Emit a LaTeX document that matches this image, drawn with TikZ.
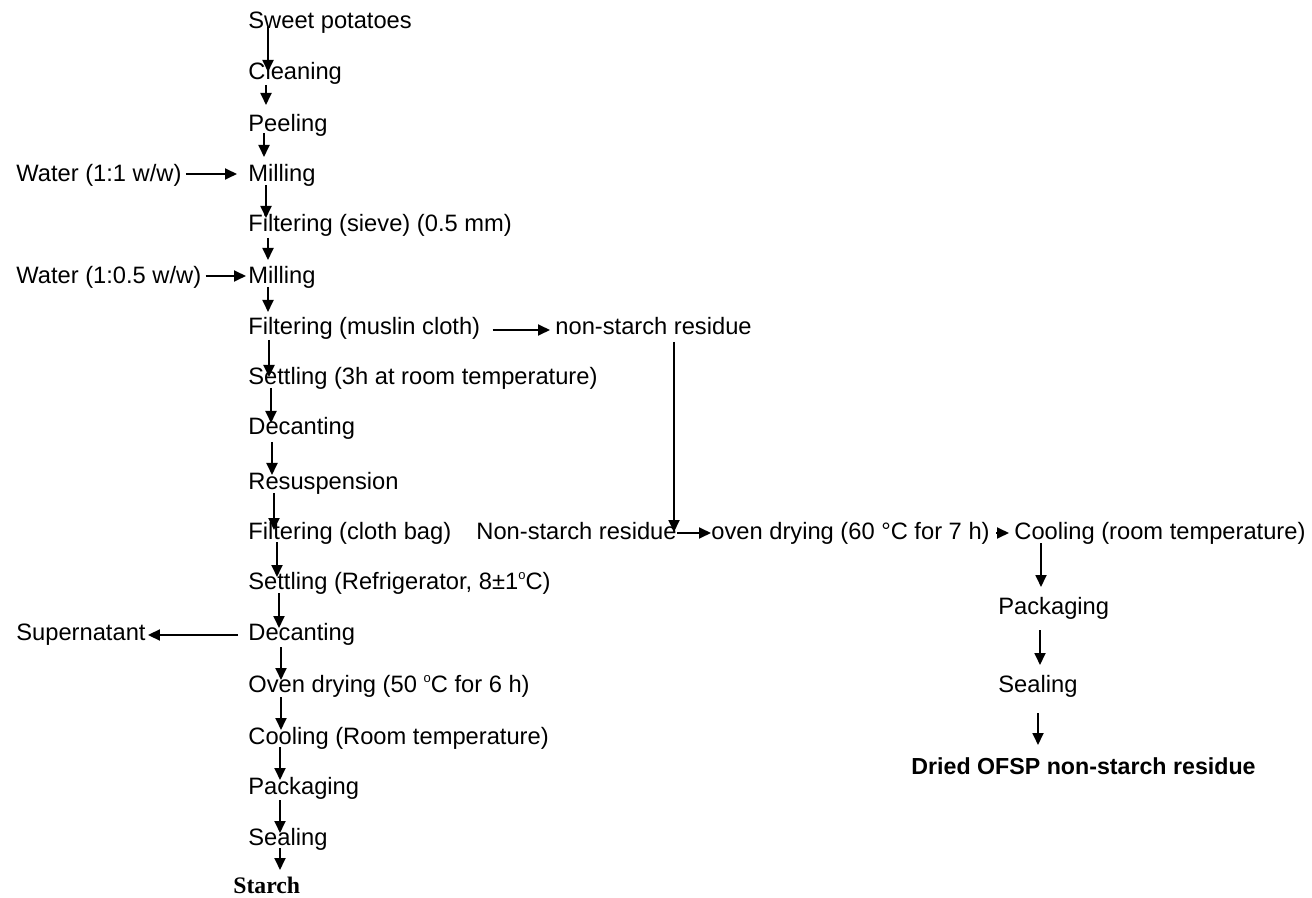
\documentclass[tikz,border=0pt]{standalone}
\usepackage{fontspec}
\setmainfont{Liberation Sans}
\newfontfamily\starchfont{Liberation Serif}
\usetikzlibrary{arrows.meta,calc}
\newcommand{\dego}{\raisebox{0.75ex}{\fontsize{6.5}{7}\selectfont o}}

\begin{document}
\begin{tikzpicture}[
  x=0.5pt, y=-0.5pt,
  font=\fontsize{11.85}{14}\selectfont,
  stage/.style={anchor=base west, inner sep=0pt, text height=8.5pt, text depth=2.5pt},
  flow/.style={-{Triangle[length=6pt,width=5.5pt]}, line width=0.9pt},
]
\useasboundingbox (0,0) rectangle (1312,898);
% starch line (main column)
\node[stage] (sp) at (248,29) {Sweet potatoes};
\node[stage] (cl) at (248,80) {Cleaning};
\node[stage] (pe) at (248,132) {Peeling};
\node[stage] (mi1) at (248,182) {Milling};
\node[stage] (fs) at (248,232) {Filtering (sieve) (0.5 mm)};
\node[stage] (mi2) at (248,284) {Milling};
\node[stage] (fm) at (248,335) {Filtering (muslin cloth)};
\node[stage] (st1) at (248,385) {Settling (3h at room temperature)};
\node[stage] (de1) at (248,435) {Decanting};
\node[stage] (rs) at (248,489) {Resuspension};
\node[stage] (fc) at (248,539) {Filtering (cloth bag)};
\node[stage] (st2) at (248,589) {Settling (Refrigerator, 8±1\dego C)};
\node[stage] (de2) at (248,640) {Decanting};
\node[stage] (od) at (248,692) {Oven drying (50 \dego C for 6 h)};
\node[stage] (co) at (248,744) {Cooling (Room temperature)};
\node[stage] (pk) at (248,794) {Packaging};
\node[stage] (se) at (248,845) {Sealing};
\node[stage, font=\starchfont\bfseries\fontsize{11.85}{14}\selectfont] (sta) at (233,893) {Starch};
% inputs and outputs on the left
\node[stage] (w1) at (16,182) {Water (1:1 w/w)};
\node[stage] (w2) at (16,284) {Water (1:0.5 w/w)};
\node[stage] (su) at (16,640) {Supernatant};
% residue line (right)
\node[stage] (nsr) at (555,335) {non-starch residue};
\node[stage] (nsr2) at (476,539) {Non-starch residue};
\node[stage] (od2) at (711,539) {oven drying (60 °C for 7 h)};
\node[stage] (co2) at (1014,539) {Cooling (room temperature)};
\node[stage] (pk2) at (998,614) {Packaging};
\node[stage] (se2) at (998,692) {Sealing};
\node[stage, font=\bfseries\fontsize{11.6}{14}\selectfont] (dried) at (911,774) {Dried OFSP non-starch residue};
% vertical steps: from/to/x from/y from/x to/y to (px offsets from the base line)
\foreach \na/\nb/\xa/\ya/\xb/\yb in {sp/cl/20/-2/20/-8, cl/pe/18/5/18/-27, pe/mi1/16/1/16/-25,
    mi1/fs/18/3/18/-14, fs/mi2/20/6/20/-24, mi2/fm/20/3/20/-23, fm/st1/21/5/21/-8,
    st1/de1/23/3/23/-12, de1/rs/24/7/24/-14, rs/fc/26/4/26/-9, fc/st2/29/3/29/-12,
    st2/de2/31/4/31/-12, de2/od/33/7/33/-12, od/co/33/5/33/-14, co/pk/32/3/32/-14,
    pk/se/32/6/32/-12, se/sta/32/3/47/-23,
    nsr/nsr2/119/7/198/-7, co2/pk2/27/4/43/-27, pk2/se2/42/16/42/-27, se2/dried/40/21/127/-29}
  \draw[flow] ($(\na.base west)+(\xa,\ya)$) -- ($(\nb.base west)+(\xb,\yb)$);
% side arrows
\draw[flow] ($(w1.base east)+(4,-8)$) -- ($(mi1.base west)+(-11,-8)$);
\draw[flow] ($(w2.base east)+(4,-8)$) -- ($(mi2.base west)+(-2,-8)$);
\draw[flow] ($(de2.base west)+(-10,-5)$) -- ($(su.base east)+(2,-5)$);
\draw[flow] ($(fm.base east)+(12,-5)$) -- ($(nsr.base west)+(-5,-5)$);
\draw[flow] ($(nsr2.base east)+(0,-6)$) -- ($(od2.base west)+(0,-6)$);
\draw[flow] ($(od2.base east)+(6,-6)$) -- ($(co2.base west)+(-5,-6)$);
\end{tikzpicture}
\end{document}
